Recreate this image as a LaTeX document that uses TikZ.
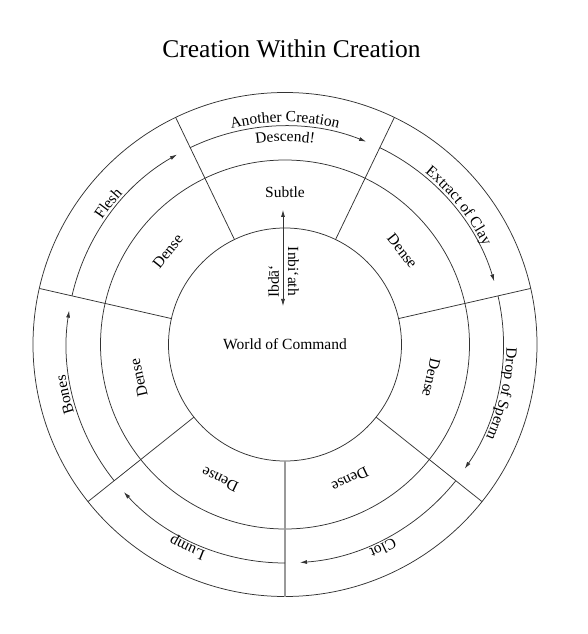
\documentclass[tikz,border=0pt]{standalone}
\usepackage{fontspec}
\setmainfont{Liberation Serif}
\usetikzlibrary{arrows.meta, decorations.text}

\newcommand{\lblfont}{\fontsize{15.5}{18}\selectfont}

\begin{document}
\begin{tikzpicture}[x=1pt, y=1pt,
    ring/.style={draw=black!80, line width=0.75pt},
    flow/.style={draw=black!80, line width=0.75pt, -{Latex[length=7pt, width=4pt]}},
    lbl/.style={font=\lblfont, inner sep=0pt},
    along/.style={decorate, decoration={text along path, text align=center, text={|\lblfont|#1}}}
  ]
  \useasboundingbox (-285,-289.5) rectangle (303,344.5);

  \node[font=\fontsize{25.5}{30}\selectfont, anchor=base] (title) at (6.5,286.5) {Creation Within Creation};

  % rings
  \node[circle, ring, minimum size=233pt, inner sep=0pt, font=\lblfont] (world) at (0,0) {World of Command};
  \draw[ring] (0,0) circle[radius=184.5];
  \draw[ring] (0,0) circle[radius=252];

  % spokes, seven sectors
  \foreach \k in {1,...,6}
    \draw[ring] (270+\k*360/7:116.5) -- (270+\k*360/7:252);
  \draw[ring, draw=black!40, line width=1.3pt] (world.south) -- (270:252);

  % inner ring
  \node[lbl] (subtle) at (90:152) {Subtle};
  \foreach \a [count=\i] in {38.57, -12.86, -64.29, -115.71, -167.14, 141.43}
    \node[lbl, rotate=\a-90] (dense\i) at (\a:150) {Dense};

  % Ibda / Inbi'ath
  \coordinate (top) at (-2,134.5);
  \coordinate (bottom) at (-2,38.5);
  \draw[flow, {Latex[length=7pt, width=4pt]}-{Latex[length=7pt, width=4pt]}] (bottom) -- (top);
  \node[lbl, rotate=-90] (inbiath) at (8.5,73) {Inbi`ath};
  \node[lbl, rotate=90] (ibda) at (-11.5,63) {Ibdā`};

  % outer ring, arrows run clockwise
  \foreach \s in {115.71, 64.29, 12.86, -38.57, -90, -141.43, 167.14}
    \draw[flow] (\s:218.5) arc[start angle=\s, end angle=\s-47.5, radius=218.5];

  \path[along={Another Creation}] (115:222.5) arc[start angle=115, end angle=65, radius=222.5];
  \path[along={Descend!}] (115:203) arc[start angle=115, end angle=65, radius=203];
  \path[along={Extract of Clay}] (63.57:221.5) arc[start angle=63.57, end angle=13.57, radius=221.5];
  \path[along={Drop of Sperm}] (12.14:221.5) arc[start angle=12.14, end angle=-37.86, radius=221.5];
  \path[along={Clot}] (-39.29:221.5) arc[start angle=-39.29, end angle=-89.29, radius=221.5];
  \path[along={Lump}] (-90.71:221.5) arc[start angle=-90.71, end angle=-140.71, radius=221.5];
  \path[along={Bones}] (-142.14:221.5) arc[start angle=-142.14, end angle=-192.14, radius=221.5];
  \path[along={Flesh}] (166.43:221.5) arc[start angle=166.43, end angle=116.43, radius=221.5];
\end{tikzpicture}
\end{document}
